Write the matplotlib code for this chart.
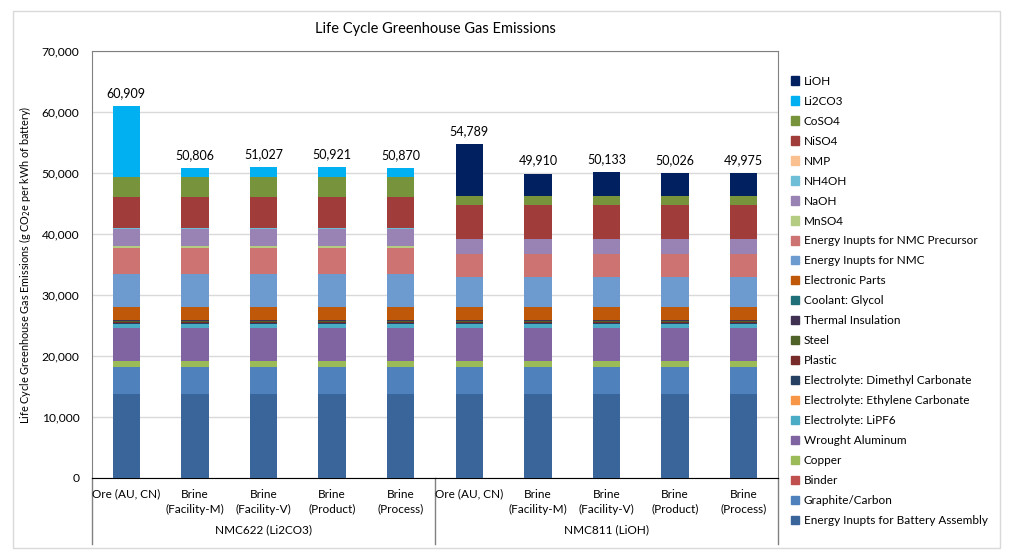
import numpy as np
import matplotlib.pyplot as plt
from matplotlib.patches import Patch, Rectangle
from matplotlib.transforms import blended_transform_factory

plt.rcParams['font.family'] = ['Lato', 'DejaVu Sans']

bars = ["Ore (AU, CN)", "Brine\n(Facility-M)", "Brine\n(Facility-V)", "Brine\n(Product)", "Brine\n(Process)"] * 2
groups = ["NMC622 (Li2CO3)", "NMC811 (LiOH)"]

# stacking order, bottom first
layers = ["Energy Inupts for Battery Assembly", "Graphite/Carbon", "Binder", "Copper",
          "Wrought Aluminum", "Electrolyte: LiPF6", "Electrolyte: Ethylene Carbonate",
          "Electrolyte: Dimethyl Carbonate", "Plastic", "Steel", "Thermal Insulation",
          "Coolant: Glycol", "Electronic Parts", "Energy Inupts for NMC",
          "Energy Inupts for NMC Precursor", "MnSO4", "NaOH", "NH4OH", "NMP",
          "NiSO4", "CoSO4", "Li2CO3", "LiOH"]
colors = ["#3A659A", "#4F81BD", "#C0504D", "#9BBB59", "#8064A2", "#4BACC6", "#F79646",
          "#254061", "#772C2A", "#4F6228", "#403152", "#1F6F78", "#C0580A", "#6E9BCF",
          "#CD7371", "#B3CC82", "#9983B5", "#6FBED8", "#FAC090", "#A03C3A", "#77933C",
          "#00B0F0", "#002060"]

# values in g CO2e per kWh, one per bar (5 NMC622 then 5 NMC811)
common = {
    "Energy Inupts for Battery Assembly": 13700, "Graphite/Carbon": 4450, "Binder": 50,
    "Copper": 950, "Wrought Aluminum": 5400, "Electrolyte: LiPF6": 700,
    "Electrolyte: Ethylene Carbonate": 60, "Electrolyte: Dimethyl Carbonate": 80,
    "Plastic": 150, "Steel": 150, "Thermal Insulation": 200, "Coolant: Glycol": 50,
    "Electronic Parts": 2090,
}
nmc_energy = [5420] * 5 + [4920] * 5
precursor = [4330] * 5 + [3730] * 5
mnso4 = [200] * 5 + [100] * 5
naoh = [2900] * 5 + [2360] * 5
nh4oh = [60] * 5 + [50] * 5
nmp = [60] * 5 + [50] * 5
niso4 = [5030] * 5 + [5470] * 5
coso4 = [3280] * 5 + [1480] * 5
li2co3 = [11599, 1496, 1717, 1611, 1560, 0, 0, 0, 0, 0]
lioh = [0, 0, 0, 0, 0, 8599, 3720, 3943, 3836, 3785]

data = {k: [v] * 10 for k, v in common.items()}
data.update({"Energy Inupts for NMC": nmc_energy, "Energy Inupts for NMC Precursor": precursor,
             "MnSO4": mnso4, "NaOH": naoh, "NH4OH": nh4oh, "NMP": nmp, "NiSO4": niso4,
             "CoSO4": coso4, "Li2CO3": li2co3, "LiOH": lioh})

fig = plt.figure(figsize=(10.15, 5.56), dpi=100)
ax = fig.add_axes([92/1015, 1-478/556, (778-92)/1015, (478-51)/556])

# outer chart border
fig.patches.append(Rectangle((13/1015, 1-548/556), (1000-13)/1015, (548-11)/556,
                             transform=fig.transFigure, fill=False, ec="#D9D9D9", lw=1))

x = np.arange(10)
bottom = np.zeros(10)
for name, c in zip(layers, colors):
    v = np.array(data[name], dtype=float)
    ax.bar(x, v, 0.4, bottom=bottom, color=c, zorder=3)
    bottom += v

for xi, t in zip(x, bottom):
    ax.annotate(f"{int(t):,}", (xi, t), xytext=(0, 5), textcoords="offset points",
                ha="center", va="bottom", fontsize=9)

ax.set_xlim(-0.5, 9.5)
ax.set_ylim(0, 70000)
ax.set_yticks(np.arange(0, 70001, 10000))
ax.set_yticklabels([f"{v:,}" for v in range(0, 70001, 10000)], fontsize=8.7)
ax.yaxis.grid(True, color="#D9D9D9", lw=1, zorder=0)
ax.tick_params(axis="y", length=0, pad=9)
ax.set_xticks([])
for s in ["top", "right", "left"]:
    ax.spines[s].set_color("#808080")
ax.spines["bottom"].set_color("#000000")
ax.set_ylabel("Life Cycle Greenhouse Gas Emissions (g CO$_2$e per kWh of battery)", fontsize=7.8)
ax.yaxis.set_label_coords(-0.086, 0.5)
ax.set_title("Life Cycle Greenhouse Gas Emissions", fontsize=10.5, pad=13)

tr = blended_transform_factory(ax.transData, ax.transAxes)
for xi, lab in zip(x, bars):
    ax.text(xi, -0.025, lab, transform=tr, ha="center", va="top", fontsize=8.5, linespacing=1.45)
for gx, g in zip([2, 7], groups):
    ax.text(gx, -0.122, g, transform=tr, ha="center", va="center", fontsize=8.5)
for sx in [-0.5, 4.5, 9.5]:
    ax.plot([sx, sx], [0, -0.155], transform=tr, color="#808080", lw=1, clip_on=False)

handles = [Patch(color=c, label=n) for n, c in zip(layers, colors)][::-1]
fig.legend(handles=handles, loc="upper left", bbox_to_anchor=(786/1015, 1-71/556),
           frameon=False, fontsize=8.5, handlelength=0.7, handleheight=0.7,
           handletextpad=0.4, labelspacing=0.76, borderaxespad=0)

fig.savefig("out.png", dpi=100)
